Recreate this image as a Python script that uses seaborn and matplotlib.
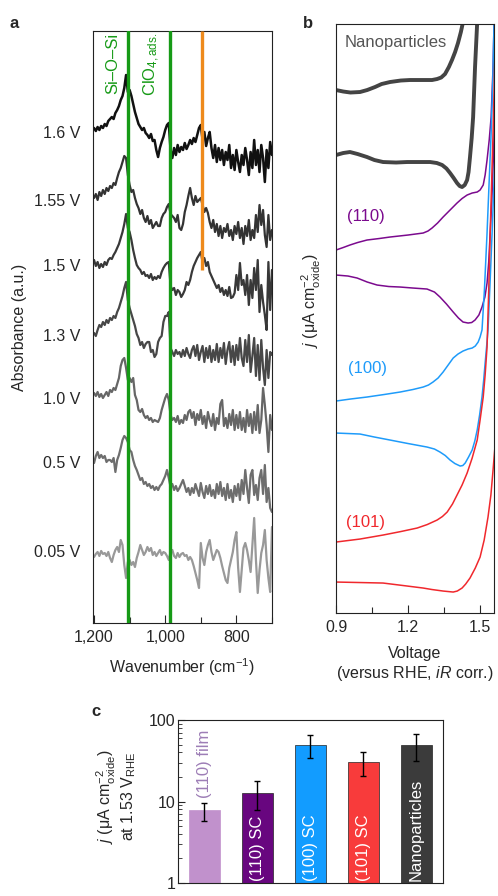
"""
Spectra + CV curves + bar chart (3 panels), rebuilt with seaborn.
"""

import matplotlib
matplotlib.use("Agg")
import matplotlib.pyplot as plt
import matplotlib.ticker as mticker
import numpy as np
import pandas as pd
import seaborn as sns

# ── Panel a: spectra (trace heights in a.u., drawn on an inverted axis) ──
WAVENUMBER = list(range(1200, 695, -5))

SPEC_160 = [128, 131, 127, 130, 126, 128, 124, 126, 121, 119,
            117, 119, 113, 110, 106, 100, 96, 88, 75, 92,
            90, 96, 104, 112, 118, 124, 127, 130, 128, 133,
            135, 138, 134, 141, 140, 150, 157, 148, 142, 137,
            130, 125, 123, 150, 158, 148, 155, 145, 152, 147,
            150, 143, 149, 145, 140, 144, 138, 142, 135, 128,
            125, 140, 132, 146, 138, 132, 148, 158, 145, 162,
            148, 160, 150, 165, 152, 160, 145, 168, 155, 170,
            150, 162, 172, 155, 165, 148, 160, 175, 152, 168,
            140, 165, 150, 172, 145, 158, 182, 150, 168, 142,
            155]
SPEC_155 = [198, 194, 200, 192, 196, 190, 194, 188, 191, 186,
            188, 183, 185, 178, 172, 168, 162, 156, 158, 175,
            185, 192, 190, 198, 204, 208, 214, 210, 218, 222,
            216, 224, 220, 228, 225, 222, 226, 226, 218, 214,
            212, 207, 204, 214, 216, 218, 222, 215, 228, 230,
            224, 212, 205, 196, 188, 198, 205, 196, 202, 200,
            198, 205, 212, 208, 213, 222, 228, 220, 232, 224,
            236, 226, 238, 228, 232, 224, 236, 230, 240, 226,
            234, 222, 238, 228, 244, 226, 236, 220, 240, 230,
            238, 215, 232, 205, 225, 210, 235, 247, 215, 240,
            230]
SPEC_150 = [260, 266, 262, 268, 264, 267, 262, 265, 260, 258,
            259, 255, 252, 248, 244, 238, 232, 224, 214, 228,
            232, 240, 250, 258, 265, 268, 270, 274, 272, 276,
            275, 278, 274, 280, 277, 279, 276, 278, 272, 268,
            265, 263, 262, 286, 290, 288, 295, 290, 292, 297,
            294, 290, 282, 285, 280, 272, 266, 262, 258, 255,
            252, 262, 258, 266, 262, 272, 276, 280, 284, 288,
            285, 292, 288, 295, 290, 296, 287, 298, 297, 293,
            275, 290, 263, 285, 280, 295, 275, 305, 280, 298,
            268, 290, 260, 312, 285, 302, 315, 330, 262, 310,
            270]
SPEC_130 = [333, 336, 330, 325, 327, 322, 325, 320, 323, 318,
            320, 316, 318, 312, 308, 302, 296, 288, 282, 300,
            308, 314, 320, 326, 334, 338, 345, 342, 348, 344,
            342, 342, 352, 350, 357, 354, 342, 338, 336, 322,
            316, 316, 312, 348, 352, 356, 350, 354, 352, 357,
            350, 356, 348, 354, 358, 350, 346, 356, 345, 360,
            352, 346, 362, 348, 358, 346, 362, 350, 360, 344,
            362, 348, 358, 343, 364, 350, 342, 362, 346, 365,
            345, 360, 338, 358, 366, 340, 362, 335, 372, 356,
            338, 376, 345, 380, 340, 368, 385, 350, 378, 352,
            355]
SPEC_100 = [393, 396, 392, 397, 394, 398, 395, 392, 396, 390,
            392, 388, 390, 384, 378, 366, 360, 358, 368, 380,
            378, 382, 378, 395, 400, 410, 412, 409, 415, 418,
            416, 420, 418, 422, 420, 421, 422, 418, 410, 404,
            398, 394, 400, 415, 420, 418, 422, 416, 424, 420,
            423, 415, 420, 412, 410, 418, 412, 425, 414, 420,
            410, 424, 416, 428, 412, 420, 426, 414, 430, 418,
            424, 404, 400, 426, 418, 428, 414, 425, 410, 430,
            415, 428, 412, 430, 418, 432, 410, 426, 414, 433,
            412, 430, 405, 433, 420, 388, 405, 425, 452, 415,
            430]
SPEC_050 = [463, 456, 452, 458, 455, 458, 456, 462, 460, 460,
            462, 458, 472, 460, 455, 448, 440, 436, 438, 442,
            450, 452, 460, 466, 470, 475, 480, 478, 484, 482,
            486, 484, 488, 486, 490, 487, 490, 486, 484, 480,
            476, 470, 478, 487, 484, 490, 486, 491, 488, 484,
            480, 486, 492, 488, 495, 488, 493, 484, 490, 496,
            483, 492, 498, 486, 494, 485, 496, 490, 498, 484,
            494, 482, 496, 488, 500, 484, 498, 490, 502, 486,
            496, 484, 500, 480, 494, 470, 488, 503, 475, 470,
            495, 485, 500, 478, 470, 494, 465, 502, 488, 508,
            512]
SPEC_005 = [557, 554, 552, 556, 551, 554, 553, 556, 552, 558,
            562, 555, 550, 547, 552, 540, 545, 565, 578, 562,
            560, 565, 562, 567, 558, 552, 545, 550, 555, 552,
            547, 551, 548, 555, 552, 556, 553, 550, 555, 552,
            553, 556, 560, 552, 550, 556, 558, 553, 557, 554,
            553, 556, 555, 560, 557, 560, 566, 573, 580, 588,
            543, 558, 565, 552, 545, 540, 552, 560, 555, 550,
            552, 558, 566, 573, 580, 583, 568, 560, 552, 540,
            532, 568, 592, 570, 548, 543, 550, 560, 572, 545,
            518, 560, 593, 570, 553, 545, 530, 560, 578, 592,
            527]

POTENTIAL_LABELS = ["1.6 V", "1.55 V", "1.5 V", "1.3 V", "1.0 V", "0.5 V", "0.05 V"]
LABEL_LEVELS = [132, 200, 265, 335, 398, 462, 551]
SPECTRA = [SPEC_160, SPEC_155, SPEC_150, SPEC_130, SPEC_100, SPEC_050, SPEC_005]
SPEC_COLORS = ["#111111", "#333333", "#383838", "#474747", "#666666", "#6e6e6e", "#999999"]

SIOSI_WN = 1104
CLO4_WN = 986
ORANGE_WN = 896

# ── Panel b: CV branches (V, current in a.u. on an inverted axis) ──
NP_UP_V = [0.90, 0.93, 0.96, 1.00, 1.03, 1.0625, 1.09, 1.125, 1.17, 1.208, 1.26, 1.30,
           1.321, 1.338, 1.354, 1.37, 1.383, 1.396, 1.408, 1.42, 1.429]
NP_UP_J = [90, 91.5, 92.5, 92, 90, 87, 84, 82, 80.5, 80, 80, 80,
           79, 77.5, 74, 67, 60, 52, 43, 32, 22]
NP_DN_V = [0.90, 0.93, 0.958, 0.99, 1.029, 1.06, 1.096, 1.15, 1.196, 1.25, 1.292, 1.32,
           1.342, 1.36, 1.375, 1.39, 1.404, 1.415, 1.425, 1.436, 1.446, 1.452, 1.458,
           1.465, 1.471, 1.475, 1.479, 1.484, 1.488]
NP_DN_J = [155, 153, 152, 154, 157, 160, 162, 162.5, 162, 162, 162, 163,
           165, 168.5, 173, 178, 183, 186, 187, 185, 180, 172, 157,
           138, 117, 92, 67, 42, 22]

S110_UP_V = [0.90, 0.93, 0.958, 0.99, 1.029, 1.08, 1.125, 1.20, 1.263, 1.283, 1.30,
             1.323, 1.346, 1.375, 1.404, 1.425, 1.446, 1.467, 1.488, 1.50, 1.513,
             1.521, 1.529, 1.538, 1.546, 1.554, 1.558]
S110_UP_J = [250, 247.5, 245, 242.5, 240, 238.5, 237, 235, 233, 231, 228,
             223, 217, 210, 203, 198.5, 195, 193, 192, 190, 185,
             175, 160, 140, 117, 67, 24]
S110_DN_V = [0.90, 0.95, 0.988, 1.03, 1.071, 1.12, 1.167, 1.22, 1.279, 1.31, 1.333,
             1.36, 1.388, 1.41, 1.429, 1.45, 1.465, 1.479, 1.495, 1.508, 1.52, 1.529,
             1.536, 1.542, 1.549, 1.554, 1.563]
S110_DN_J = [275, 276, 278, 282, 285, 286.5, 287, 288, 289, 292, 297,
             304, 312, 318, 322, 323, 322.5, 320, 315, 307, 297, 283,
             262, 233, 200, 167, 100]

S100_UP_V = [0.90, 0.96, 1.029, 1.10, 1.167, 1.22, 1.263, 1.285, 1.304, 1.325, 1.346,
             1.367, 1.388, 1.408, 1.429, 1.45, 1.467, 1.48, 1.492, 1.50, 1.508,
             1.518, 1.529, 1.538, 1.546, 1.553, 1.558]
S100_UP_J = [401, 399, 397, 394.5, 392, 389.5, 387, 385, 382, 378, 372,
             365, 358, 354, 351, 349, 348, 346, 342, 337, 330,
             290, 233, 180, 133, 80, 24]
S100_DN_V = [0.90, 0.95, 1.00, 1.06, 1.125, 1.20, 1.279, 1.31, 1.333, 1.355, 1.375,
             1.395, 1.417, 1.428, 1.438, 1.452, 1.467, 1.478, 1.488, 1.498, 1.508,
             1.515, 1.521, 1.527, 1.533, 1.542, 1.55, 1.563]
S100_DN_J = [433, 433.5, 434, 437, 440, 443.5, 447, 449, 452, 455.5, 460,
             463.5, 466, 465.5, 463, 457, 450, 441, 430, 415, 397,
             380, 363, 347, 330, 280, 233, 150]

S101_UP_V = [0.90, 1.00, 1.096, 1.17, 1.238, 1.28, 1.321, 1.343, 1.363, 1.385, 1.404,
             1.425, 1.446, 1.467, 1.488, 1.50, 1.513, 1.521, 1.529, 1.536, 1.542,
             1.554, 1.563]
S101_UP_J = [542, 539, 535, 531.5, 528, 524.5, 520, 516.5, 512, 504, 495,
             485, 473, 458, 440, 420, 397, 375, 347, 290, 233,
             133, 40]
S101_DN_V = [0.90, 1.00, 1.096, 1.18, 1.263, 1.30, 1.346, 1.388, 1.405, 1.425, 1.44,
             1.458, 1.48, 1.50, 1.517, 1.533, 1.545, 1.554, 1.571]
S101_DN_J = [582, 582.5, 583, 585.5, 588, 589.5, 591, 592, 591, 588, 584,
             578, 568, 557, 540, 517, 495, 470, 420]

# ── Panel c: bars ──
BAR_LABELS = ["(110) film", "(110) SC", "(100) SC", "(101) SC", "Nanoparticles"]
BAR_VALUES = [7.8, 12.8, 49.6, 30.3, 49.6]
ERR_LOW = [5.8, 7.8, 33.8, 20.7, 31.2]
ERR_HIGH = [9.7, 17.7, 64.9, 40.9, 66.6]
BAR_COLORS = ["#C191CC", "#68067F", "#129CFF", "#F83B3B", "#3B3B3B"]

C_NP = "#444444"
C_110 = "#7B0A8E"
C_100 = "#1E9BFA"
C_101 = "#F0282D"
C_GREEN = "#169A16"
C_ORANGE = "#EE8A1C"

sns.set_theme(style="ticks")
plt.rcParams["font.family"] = ["Liberation Sans", "DejaVu Sans"]
plt.rcParams["mathtext.fontset"] = "custom"
plt.rcParams["mathtext.rm"] = "Liberation Sans"
plt.rcParams["mathtext.it"] = "Liberation Sans:italic"
plt.rcParams["axes.linewidth"] = 0.8
plt.rcParams["axes.edgecolor"] = "#222222"
FS = 11.5

fig = plt.figure(figsize=(4.98, 8.96), dpi=100)
ax_a = fig.add_axes([0.1867, 0.3047, 0.3594, 0.6607])
ax_b = fig.add_axes([0.6747, 0.3158, 0.3173, 0.6574])
ax_c = fig.add_axes([0.3574, 0.0145, 0.5321, 0.1819])

# ── a ──
for vals, col, lab in zip(SPECTRA, SPEC_COLORS, POTENTIAL_LABELS):
    df = pd.DataFrame({"wn": WAVENUMBER, "abs": vals})
    lw = 1.8 if lab == "1.6 V" else 1.6
    sns.lineplot(data=df, x="wn", y="abs", color=col, lw=lw, ax=ax_a,
                 estimator=None, sort=False, zorder=2)

ax_a.axvline(SIOSI_WN, color=C_GREEN, lw=2.4, zorder=3)
ax_a.axvline(CLO4_WN, color=C_GREEN, lw=2.4, zorder=3)
ax_a.plot([ORANGE_WN, ORANGE_WN], [31, 270], color=C_ORANGE, lw=2.4, zorder=3,
          solid_capstyle="butt")
ax_a.text(1146, 33, "Si–O–Si", rotation=90, color=C_GREEN, fontsize=12,
          ha="center", va="top")
ax_a.text(1037, 33, "ClO$_{4,\\mathrm{ads.}}$", rotation=90, color=C_GREEN, fontsize=12,
          ha="center", va="top")

ax_a.set_xlim(1203, 700)
ax_a.set_ylim(623, 31)
ax_a.set_xticks([1200, 1000, 800])
ax_a.set_xticklabels(["1,200", "1,000", "800"])
ax_a.xaxis.set_minor_locator(mticker.FixedLocator([1100, 900, 700]))
ax_a.set_yticks(LABEL_LEVELS)
ax_a.set_yticklabels(POTENTIAL_LABELS)
ax_a.tick_params(axis="y", length=0, pad=9, labelsize=FS)
ax_a.tick_params(axis="x", which="major", direction="in", length=6, width=0.8,
                 labelsize=FS, pad=5)
ax_a.tick_params(axis="x", which="minor", direction="in", length=4.5, width=0.8)
ax_a.set_xlabel("Wavenumber (cm$^{-1}$)", fontsize=FS, labelpad=8)
ax_a.set_ylabel("Absorbance (a.u.)", fontsize=FS)
ax_a.yaxis.set_label_coords(-0.37, 0.5)

# ── b ──
branches = [
    (NP_UP_V, NP_UP_J, C_NP, 2.8), (NP_DN_V, NP_DN_J, C_NP, 2.8),
    (S110_UP_V, S110_UP_J, C_110, 1.1), (S110_DN_V, S110_DN_J, C_110, 1.1),
    (S100_UP_V, S100_UP_J, C_100, 1.1), (S100_DN_V, S100_DN_J, C_100, 1.1),
    (S101_UP_V, S101_UP_J, C_101, 1.1), (S101_DN_V, S101_DN_J, C_101, 1.1),
]
for v, j, col, lw in branches:
    df = pd.DataFrame({"V": v, "j": j})
    sns.lineplot(data=df, x="V", y="j", color=col, lw=lw, ax=ax_b,
                 estimator=None, sort=False)

ax_b.text(0.9375, 42, "Nanoparticles", color="#555555", fontsize=12, va="center")
ax_b.text(0.946, 216, "(110)", color=C_110, fontsize=12, va="center")
ax_b.text(0.950, 368, "(100)", color=C_100, fontsize=12, va="center")
ax_b.text(0.942, 522, "(101)", color=C_101, fontsize=12, va="center")

ax_b.set_xlim(0.9, 1.558)
ax_b.set_ylim(613, 24)
ax_b.set_xticks([0.9, 1.2, 1.5])
ax_b.set_xticklabels(["0.9", "1.2", "1.5"])
ax_b.xaxis.set_minor_locator(mticker.FixedLocator([1.05, 1.35]))
ax_b.set_yticks([])
ax_b.tick_params(axis="x", which="major", direction="in", length=6, width=0.8,
                 labelsize=FS, pad=5)
ax_b.tick_params(axis="x", which="minor", direction="in", length=4.5, width=0.8)
ax_b.set_xlabel("Voltage\n(versus RHE, $\\mathit{iR}$ corr.)", fontsize=FS,
                linespacing=1.2, labelpad=8)
ax_b.set_ylabel("$j$ (μA cm$^{-2}_{\\mathrm{oxide}}$)", fontsize=FS)
ax_b.yaxis.set_label_coords(-0.08, 0.53)

# ── c ──
bar_df = pd.DataFrame({"sample": BAR_LABELS, "j": BAR_VALUES})
sns.barplot(data=bar_df, x="sample", y="j", hue="sample", palette=BAR_COLORS,
            saturation=1, legend=False, width=0.6, ax=ax_c,
            edgecolor="#222222", linewidth=0.5)
ax_c.patches[0].set_edgecolor(BAR_COLORS[0])
vals = np.array(BAR_VALUES)
yerr = [vals - np.array(ERR_LOW), np.array(ERR_HIGH) - vals]
ax_c.errorbar(range(len(vals)), vals, yerr=yerr, fmt="none", ecolor="black",
              elinewidth=1.0, capsize=2.5, capthick=1.0)
ax_c.set_yscale("log")
ax_c.set_ylim(1, 100)
ax_c.set_xlim(-0.5, 4.5)
ax_c.set_xticks([])
ax_c.set_xlabel("")
ax_c.yaxis.set_major_formatter(mticker.FuncFormatter(lambda v, _: f"{v:g}"))
ax_c.tick_params(axis="y", which="major", direction="in", length=5, width=0.8,
                 labelsize=FS, pad=2)
ax_c.tick_params(axis="y", which="minor", direction="in", length=3, width=0.6)
ax_c.set_ylabel("$j$ (μA cm$^{-2}_{\\mathrm{oxide}}$)\nat 1.53 V$_{\\mathrm{RHE}}$",
                fontsize=FS, linespacing=1.1)
ax_c.yaxis.set_label_coords(-0.15, 0.53)

ax_c.text(0, 11.2, BAR_LABELS[0], rotation=90, color="#9D7DB6", fontsize=12,
          ha="center", va="bottom")
for i, lab in enumerate(BAR_LABELS[1:], start=1):
    ax_c.text(i, 1.06, lab, rotation=90, color="white", fontsize=12,
              ha="center", va="bottom")

for a in (ax_a, ax_b, ax_c):
    for s in a.spines.values():
        s.set_visible(True)

fig.text(14 / 498, 1 - 23 / 896, "a", fontsize=12, fontweight="bold", ha="center", va="center")
fig.text(308 / 498, 1 - 24 / 896, "b", fontsize=12, fontweight="bold", ha="center", va="center")
fig.text(96 / 498, 1 - 712 / 896, "c", fontsize=12, fontweight="bold", ha="center", va="center")

fig.savefig("out.png", dpi=100)
plt.close(fig)
